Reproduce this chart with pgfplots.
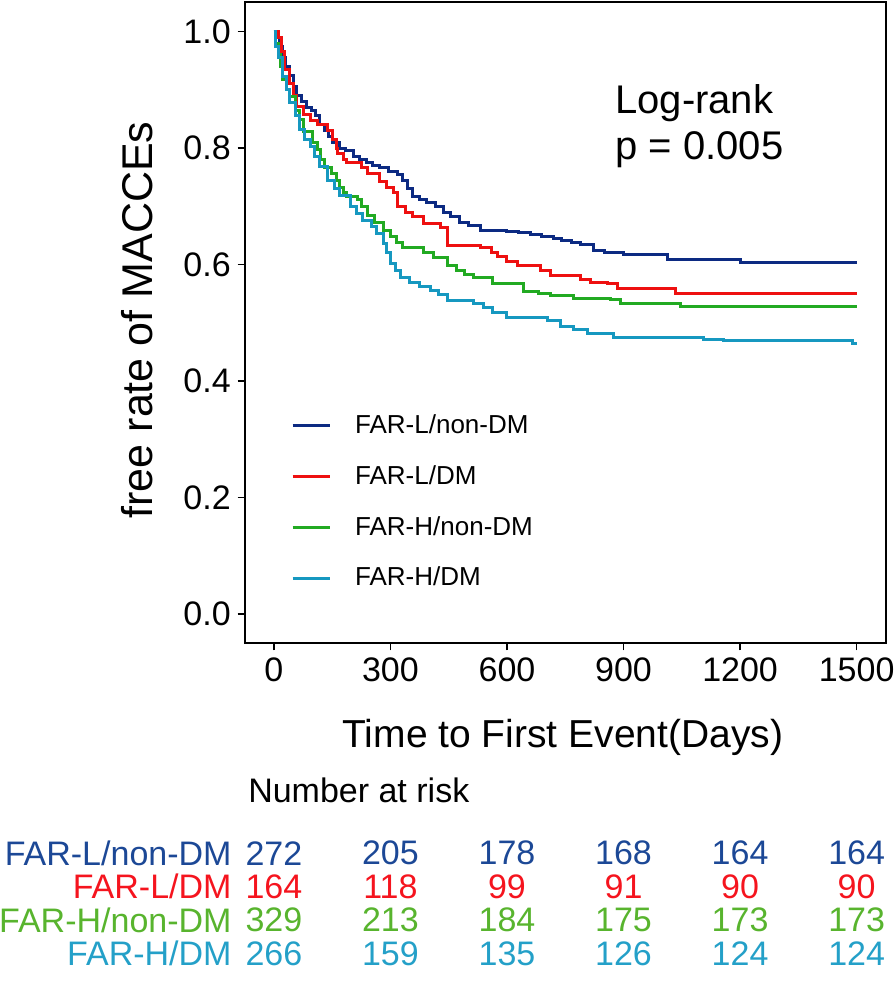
\documentclass[border=0pt]{standalone}
\usepackage{pgfplots}
\pgfplotsset{compat=1.18}
\usepackage{fontspec}
\setmainfont{Liberation Sans}
\definecolor{cnavy}{RGB}{12,42,130}
\definecolor{cred}{RGB}{238,16,16}
\definecolor{cgreen}{RGB}{34,170,34}
\definecolor{cteal}{RGB}{22,152,192}
\definecolor{tnavy}{RGB}{28,72,150}
\definecolor{tred}{RGB}{245,20,30}
\definecolor{tgreen}{RGB}{88,180,46}
\definecolor{tteal}{RGB}{36,160,200}
\newcommand{\fs}[1]{\fontsize{#1}{#1}\selectfont}
% risk table: one row per group
\newcommand{\riskrow}[8]{%
  \node[anchor=east, #1] at (axis cs:-108,#2) {#3};
  \node[#1] at (axis cs:0,#2) {#4};
  \node[#1] at (axis cs:300,#2) {#5};
  \node[#1] at (axis cs:600,#2) {#6};
  \node[#1] at (axis cs:900,#2) {#7};
  \node[#1] at (axis cs:1200,#2) {#8};
  \node[#1] at (axis cs:1500,#2) {#8};
}

\begin{document}
\begin{tikzpicture}
\begin{axis}[
    scale only axis,
    width=320.5pt, height=320.5pt,
    xmin=-75, xmax=1575, ymin=-0.05, ymax=1.05,
    xtick={0,300,600,900,1200,1500},
    xticklabels={0,300,600,900,1200,1500},
    ytick={0,0.2,0.4,0.6,0.8,1},
    yticklabels={0.0,0.2,0.4,0.6,0.8,1.0},
    tick pos=left, tick align=outside,
    major tick length=3.5pt,
    every tick/.style={black, line width=0.8pt},
    axis line style={line width=0.9pt},
    ticklabel style={font=\fs{17}},
    clip=false,
    const plot,
    legend cell align=left,
    legend style={at={(axis cs:28,0.357)}, anchor=north west, draw=none, fill=none,
        font=\fs{13}, row sep=10.5pt,
        /tikz/every odd column/.append style={column sep=10pt}},
    legend image code/.code={\draw[#1, line width=1.5pt] plot coordinates {(0pt,0pt) (18.5pt,0pt)};},
]
\addplot[cnavy, line width=1.5pt] coordinates {(0,1.0)(8,0.99)(15,0.975)(23,0.955)(30,0.94)(40,0.925)(50,0.905)(59,0.89)(70,0.88)(85,0.87)(98,0.865)(108,0.855)(118,0.84)(130,0.83)(140,0.82)(152,0.81)(170,0.80)(185,0.795)(204,0.785)(220,0.78)(239,0.775)(255,0.77)(273,0.766)(295,0.76)(317,0.754)(330,0.745)(345,0.73)(358,0.716)(375,0.712)(394,0.707)(415,0.70)(436,0.69)(455,0.682)(479,0.673)(500,0.667)(531,0.659)(600,0.657)(630,0.655)(660,0.652)(690,0.648)(719,0.645)(740,0.641)(765,0.638)(790,0.634)(822,0.625)(850,0.621)(900,0.618)(960,0.617)(1013,0.608)(1201,0.603)(1500,0.603)};
\addlegendentry{FAR-L/non-DM}
\addplot[cred, line width=1.5pt] coordinates {(0,1.0)(12,0.99)(20,0.965)(28,0.935)(40,0.91)(50,0.89)(59,0.871)(75,0.857)(95,0.848)(111,0.84)(139,0.83)(150,0.814)(160,0.80)(165,0.79)(180,0.78)(188,0.776)(225,0.766)(240,0.757)(273,0.742)(290,0.733)(307,0.723)(317,0.70)(340,0.69)(358,0.682)(384,0.671)(428,0.664)(446,0.633)(531,0.63)(560,0.62)(575,0.613)(600,0.606)(626,0.599)(686,0.59)(711,0.582)(789,0.575)(814,0.570)(858,0.568)(884,0.559)(1034,0.551)(1500,0.551)};
\addlegendentry{FAR-L/DM}
\addplot[cgreen, line width=1.5pt] coordinates {(0,1.0)(5,0.98)(12,0.96)(18,0.94)(23,0.917)(32,0.90)(41,0.888)(55,0.865)(67,0.849)(75,0.828)(100,0.81)(111,0.797)(120,0.78)(131,0.766)(149,0.757)(160,0.745)(170,0.733)(180,0.724)(188,0.716)(214,0.711)(225,0.70)(240,0.685)(260,0.672)(281,0.659)(300,0.648)(315,0.638)(332,0.63)(384,0.621)(410,0.612)(446,0.599)(470,0.59)(490,0.583)(513,0.578)(564,0.568)(642,0.553)(680,0.55)(711,0.547)(771,0.542)(866,0.540)(892,0.534)(1046,0.528)(1500,0.528)};
\addlegendentry{FAR-H/non-DM}
\addplot[cteal, line width=1.5pt] coordinates {(0,1.0)(5,0.975)(12,0.955)(23,0.923)(32,0.90)(41,0.878)(55,0.855)(67,0.831)(80,0.815)(93,0.802)(105,0.785)(118,0.768)(137,0.745)(155,0.73)(170,0.719)(196,0.699)(212,0.688)(229,0.676)(250,0.665)(265,0.654)(281,0.637)(290,0.62)(299,0.602)(312,0.59)(325,0.577)(350,0.570)(375,0.563)(402,0.556)(425,0.548)(446,0.539)(513,0.534)(540,0.526)(564,0.518)(600,0.509)(704,0.504)(737,0.494)(771,0.489)(807,0.482)(874,0.475)(1106,0.472)(1157,0.470)(1490,0.465)(1500,0.465)};
\addlegendentry{FAR-H/DM}

\node[anchor=north west, align=left, font=\fs{20}, inner sep=0pt] at (axis cs:878,0.91) {Log-rank\\[3pt]p = 0.005};
\node[rotate=90, font=\fs{21.5}] at (axis cs:-353,0.505) {free rate of MACCEs};
\node[font=\fs{19.5}] at (axis cs:744,-0.211) {Time to First Event(Days)};
\node[anchor=west, font=\fs{17}, inner sep=0pt] at (axis cs:-67,-0.302) {Number at risk};

\begin{scope}[every node/.style={font=\fs{17}, inner sep=0pt}]
\riskrow{tnavy}{-0.410}{FAR-L/non-DM}{272}{205}{178}{168}{164}
\riskrow{tred}{-0.467}{FAR-L/DM}{164}{118}{99}{91}{90}
\riskrow{tgreen}{-0.525}{FAR-H/non-DM}{329}{213}{184}{175}{173}
\riskrow{tteal}{-0.582}{FAR-H/DM}{266}{159}{135}{126}{124}
\end{scope}

\coordinate (bbl) at (axis cs:-705,-0.638);
\coordinate (btr) at (axis cs:1601,1.054);
\end{axis}
\pgfresetboundingbox
\path (bbl) rectangle (btr);
\end{tikzpicture}
\end{document}
